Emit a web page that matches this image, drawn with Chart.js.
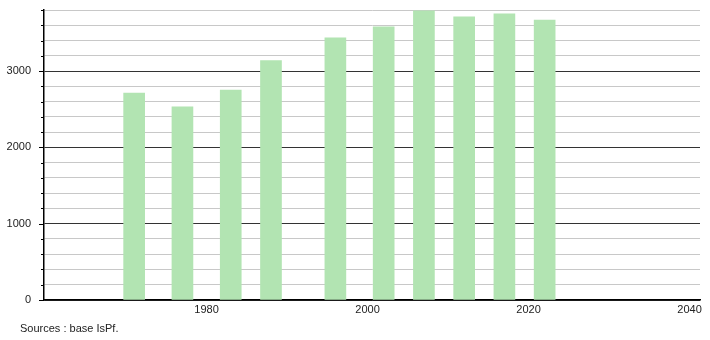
<!DOCTYPE html>
<html>
<head>
<meta charset="utf-8">
<script src="https://cdn.jsdelivr.net/npm/chart.js@4/dist/chart.umd.min.js"></script>
<style>
    html, body { margin: 0; padding: 0; background: #fff; }
    #wrap { position: relative; width: 710px; height: 340px; }
</style>
</head>
<body>
<div id="wrap"><canvas id="chart" width="710" height="340"></canvas></div>
<script>
// Années de recensement et population
const years = [1971, 1977, 1983, 1988, 1996, 2002, 2007, 2012, 2017, 2022];
const population = [2711, 2530, 2750, 3136, 3434, 3579, 3789, 3711, 3750, 3667];
const xTicks = [1980, 2000, 2020, 2040];
const sourceText = 'Sources : base IsPf.';

const points = years.map((y, i) => ({ x: y, y: population[i] }));

// Petits traits sur l'axe Y + texte des sources
const extras = {
    id: 'extras',
    afterDraw(chart) {
        const ctx = chart.ctx;
        const yScale = chart.scales.y;
        const left = chart.chartArea.left;
        ctx.save();
        ctx.strokeStyle = '#000';
        ctx.lineWidth = 1;
        for (let v = 0; v <= 3800; v += 200) {
            const py = Math.round(yScale.getPixelForValue(v)) + 0.5;
            const len = v % 1000 === 0 ? 5 : 3;
            ctx.beginPath();
            ctx.moveTo(left - len, py);
            ctx.lineTo(left, py);
            ctx.stroke();
        }
        ctx.fillStyle = '#222';
        ctx.font = '11px "Liberation Sans", Arial, sans-serif';
        ctx.textBaseline = 'middle';
        ctx.fillText(sourceText, 20, 329);
        ctx.restore();
    }
};

new Chart(document.getElementById('chart').getContext('2d'), {
    type: 'bar',
    data: {
        datasets: [{
            data: points,
            backgroundColor: '#b2e4b2',
            borderWidth: 0,
            barThickness: 21
        }]
    },
    options: {
        responsive: false,
        animation: false,
        layout: { padding: { left: 0, right: 10, top: 10, bottom: 0 } },
        plugins: { legend: { display: false }, tooltip: { enabled: false } },
        scales: {
            x: {
                type: 'linear',
                offset: false,
                min: 1959.8,
                max: 2041.3,
                afterBuildTicks: axis => { axis.ticks = xTicks.map(v => ({ value: v })); },
                afterFit: axis => { axis.height = 40; axis.paddingLeft = 0; axis.paddingRight = 0; },
                grid: { display: false, drawTicks: false, offset: false },
                border: { color: '#000', width: 1.5 },
                ticks: {
                    padding: 3,
                    color: '#222',
                    autoSkip: false,
                    font: { family: '"Liberation Sans", Arial, sans-serif', size: 11 },
                    maxRotation: 0,
                    callback: v => String(v)
                }
            },
            y: {
                min: 0,
                max: 3800,
                afterFit: axis => { axis.width = 44; axis.paddingTop = 0; axis.paddingBottom = 0; },
                grid: {
                    drawTicks: false,
                    color: ctx => (ctx.tick && ctx.tick.value % 1000 === 0) ? '#333' : '#c8c8c8',
                    lineWidth: 1
                },
                border: { color: '#000', width: 1.5 },
                ticks: {
                    stepSize: 200,
                    autoSkip: false,
                    padding: 13,
                    color: '#222',
                    font: { family: '"Liberation Sans", Arial, sans-serif', size: 11 },
                    callback: v => (v % 1000 === 0 ? String(v) : '')
                }
            }
        }
    },
    plugins: [extras]
});
</script>
</body>
</html>
